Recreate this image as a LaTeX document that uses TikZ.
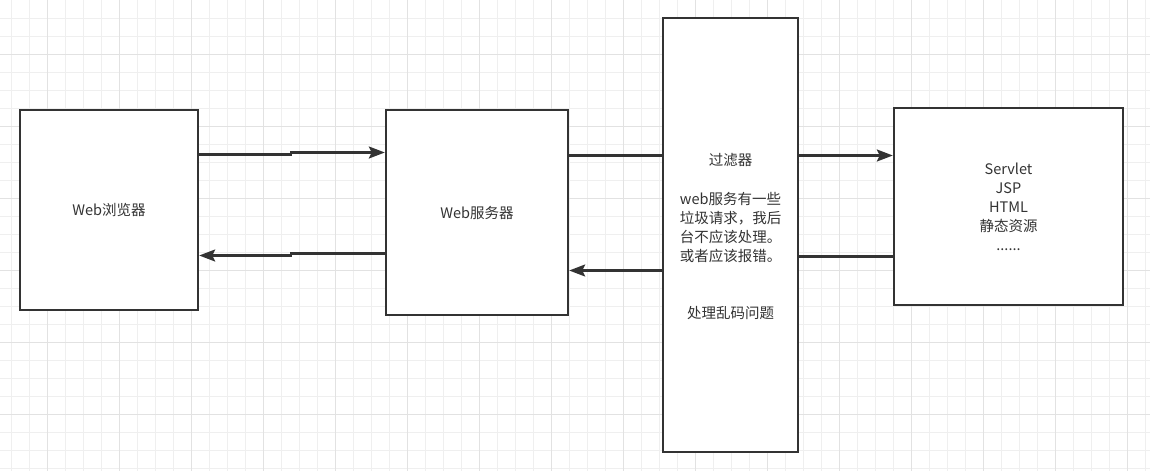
\documentclass[tikz,border=0pt]{standalone}
\usepackage{fontspec}
\setmainfont{Noto Sans CJK SC}
\usepackage{tikz}
\usetikzlibrary{arrows.meta,positioning,calc}
\definecolor{inkgray}{HTML}{333333}
\definecolor{gridminor}{HTML}{EFEFEF}
\definecolor{gridmajor}{HTML}{E2E2E2}
\tikzset{
  box/.style={draw=inkgray, line width=2.4pt, fill=white, font=\fontsize{14.5}{19}\selectfont, text=inkgray, align=center, inner sep=0pt},
  txt/.style={font=\fontsize{14.5}{19}\selectfont, text=inkgray, align=center, inner sep=0pt},
  arr/.style={-{Stealth[length=16pt,width=12pt,inset=3pt]}, draw=inkgray, line width=2.4pt},
  link/.style={draw=inkgray, line width=2.4pt},
  minor/.style={draw=gridminor, line width=0.8pt},
  major/.style={draw=gridmajor, line width=0.9pt}
}

\begin{document}
\begin{tikzpicture}[x=1pt,y=-1pt]
  \useasboundingbox (0,0) rectangle (1150,471);
  \fill[white] (0,0) rectangle (1150,471);
  % background grid
  \foreach \i in {0,...,63}{\draw[minor] ({11.7+18*\i},0)--({11.7+18*\i},471);}
  \foreach \j in {1,...,26}{\draw[minor] (0,{18*\j})--(1150,{18*\j});}
  \foreach \i in {0,...,15}{\draw[major] ({47.7+72*\i},0)--({47.7+72*\i},471);}
  \foreach \j in {0,...,5}{\draw[major] (0,{54+72*\j})--(1150,{54+72*\j});}

  \node[box, minimum width=178, minimum height=200] (browser) at (109,210) {Web浏览器};
  \node[box, minimum width=182, minimum height=205] (server) at (477,212.5) {Web服务器};
  \node[box, minimum width=135, minimum height=434] (filter) at (730.5,235) {};
  \node[box, minimum width=229, minimum height=197] (servlet) at (1008.5,206.5)
    {Servlet\\JSP\\HTML\\静态资源\\......};

  \node[txt] (ftitle) at (730.5,160) {过滤器};
  \node[txt] (fnote) at (730.5,228) {web服务有一些\\垃圾请求，我后\\台不应该处理。\\或者应该报错。};
  \node[txt] (fcode) at (730.5,313) {处理乱码问题};

  \coordinate (up1) at (291,154.5);
  \coordinate (up2) at (291,152.5);
  \coordinate (dn1) at (291,253.5);
  \coordinate (dn2) at (291,255.5);
  \draw[arr] (browser.east |- up1) -- (up1) -- (up2) -- (server.west |- up2);
  \draw[arr] (server.west |- dn1) -- (dn1) -- (dn2) -- (browser.east |- dn2);
  \draw[link] (server.east |- 0,155.5) -- (filter.west |- 0,155.5);
  \draw[arr] (filter.west |- 0,270.5) -- (server.east |- 0,270.5);
  \draw[arr] (filter.east |- 0,155.5) -- (servlet.west |- 0,155.5);
  \draw[link] (servlet.west |- 0,256.5) -- (filter.east |- 0,256.5);
\end{tikzpicture}
\end{document}
